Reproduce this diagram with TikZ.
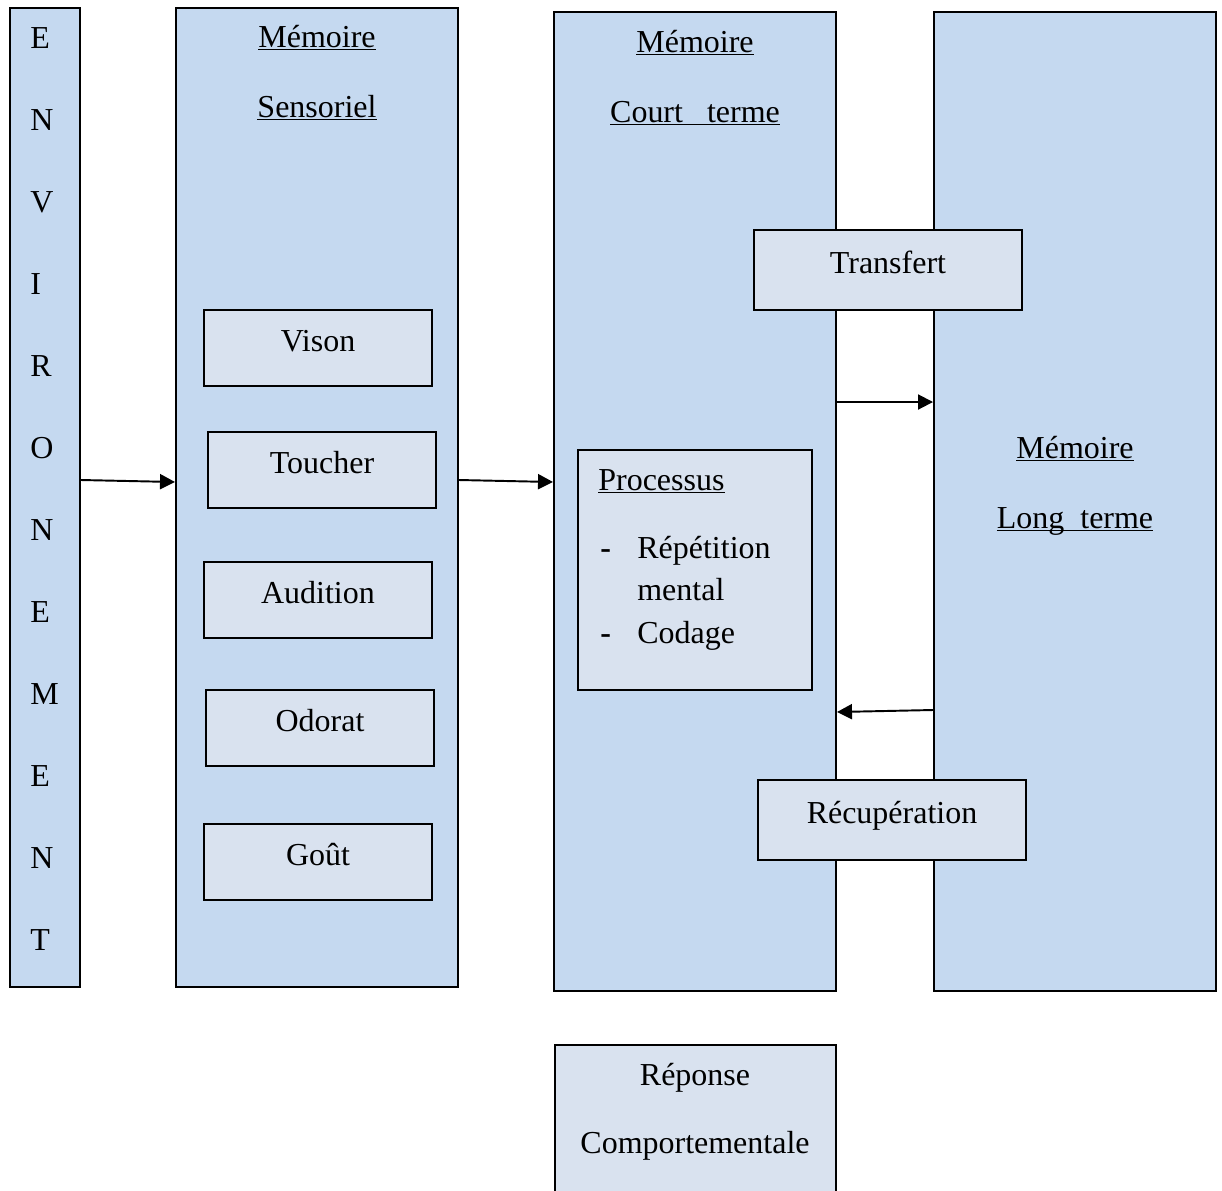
\documentclass[tikz,border=0pt]{standalone}
\usepackage{fontspec}
\setmainfont{Liberation Serif}
\usetikzlibrary{arrows.meta, positioning}
\definecolor{colonne}{RGB}{197,217,240}
\definecolor{casier}{RGB}{217,226,239}
\newcommand{\souligne}[1]{\underline{\smash{#1}}}

\begin{document}
\begin{tikzpicture}[
        font=\fontsize{18.2}{22}\selectfont,
        col/.style={draw, rectangle, line width=1.1pt, fill=colonne, minimum width=5.64cm, minimum height=19.58cm},
        box/.style={draw, rectangle, line width=1.1pt, fill=casier, minimum width=4.56cm, minimum height=1.52cm, text height=0.5cm, text depth=0.36cm},
        txt/.style={inner sep=0pt, anchor=base},
        arrow/.style={-{Triangle[length=0.3cm, width=0.3cm]}, line width=1.1pt}
    ]
        \useasboundingbox (0,0) rectangle (24.44,-23.8);

        % columns
        \node[col, minimum width=1.4cm] (env) at (0.9,-9.95) {};
        \node[col] (sens) at (6.34,-9.95) {};
        \node[col] (court) at (13.9,-10.03) {};
        \node[col] (long) at (21.5,-10.03) {};

        \foreach \l [count=\i] in {E,N,V,I,R,O,N,E,M,E,N,T}
            \node[txt, anchor=base west] (lettre\i) at (0.6,{-0.96-(\i-1)*1.64}) {\l};

        \node[txt] (sensA) at (6.34,-0.94) {\souligne{Mémoire}};
        \node[txt] (sensB) at (6.34,-2.34) {\souligne{Sensoriel}};
        \node[txt] (courtA) at (13.9,-1.04) {\souligne{Mémoire}};
        \node[txt] (courtB) at (13.9,-2.44) {\souligne{Court~~~terme}};
        \node[txt] (longA) at (21.5,-9.16) {\souligne{Mémoire}};
        \node[txt] (longB) at (21.5,-10.56) {\souligne{Long~~terme}};

        % senses
        \node[box] (vison) at (6.36,-6.96) {Vison};
        \node[box] (toucher) at (6.44,-9.4) {Toucher};
        \node[box] (audition) at (6.36,-12.0) {Audition};
        \node[box] (odorat) at (6.4,-14.56) {Odorat};
        \node[box] (gout) at (6.36,-17.24) {Goût};

        % short term
        \node[box, minimum width=4.68cm, minimum height=4.8cm] (processus) at (13.9,-11.4) {};
        \node[txt, anchor=base west] (proctitre) at (11.96,-9.8) {\souligne{Processus}};
        \node[txt, anchor=base west] (tiretA) at (12.0,-11.16) {\textbf{-}};
        \node[txt, anchor=base west] (repetition) at (12.74,-11.16) {Répétition};
        \node[txt, anchor=base west] (mental) at (12.74,-12.0) {mental};
        \node[txt, anchor=base west] (tiretB) at (12.0,-12.86) {\textbf{-}};
        \node[txt, anchor=base west] (codage) at (12.74,-12.86) {Codage};

        \node[box, minimum width=5.36cm, minimum height=1.6cm] (transfert) at (17.76,-5.4) {Transfert};
        \node[box, minimum width=5.36cm, minimum height=1.6cm] (recup) at (17.84,-16.4) {Récupération};

        % response
        \node[box, minimum width=5.62cm, minimum height=3.6cm] (reponse) at (13.91,-22.7) {};
        \node[txt] (reponseA) at (13.9,-21.7) {Réponse};
        \node[txt] (reponseB) at (13.9,-23.06) {Comportementale};

        \draw[arrow] ([yshift=0.35cm]env.east) -- ([yshift=0.31cm]sens.west);
        \draw[arrow] ([yshift=0.35cm]sens.east) -- ([yshift=0.39cm]court.west);
        \draw[arrow] ([yshift=1.99cm]court.east) -- ([yshift=1.99cm]long.west);
        \draw[arrow] ([yshift=-4.17cm]long.west) -- ([yshift=-4.21cm]court.east);
    \end{tikzpicture}
\end{document}
